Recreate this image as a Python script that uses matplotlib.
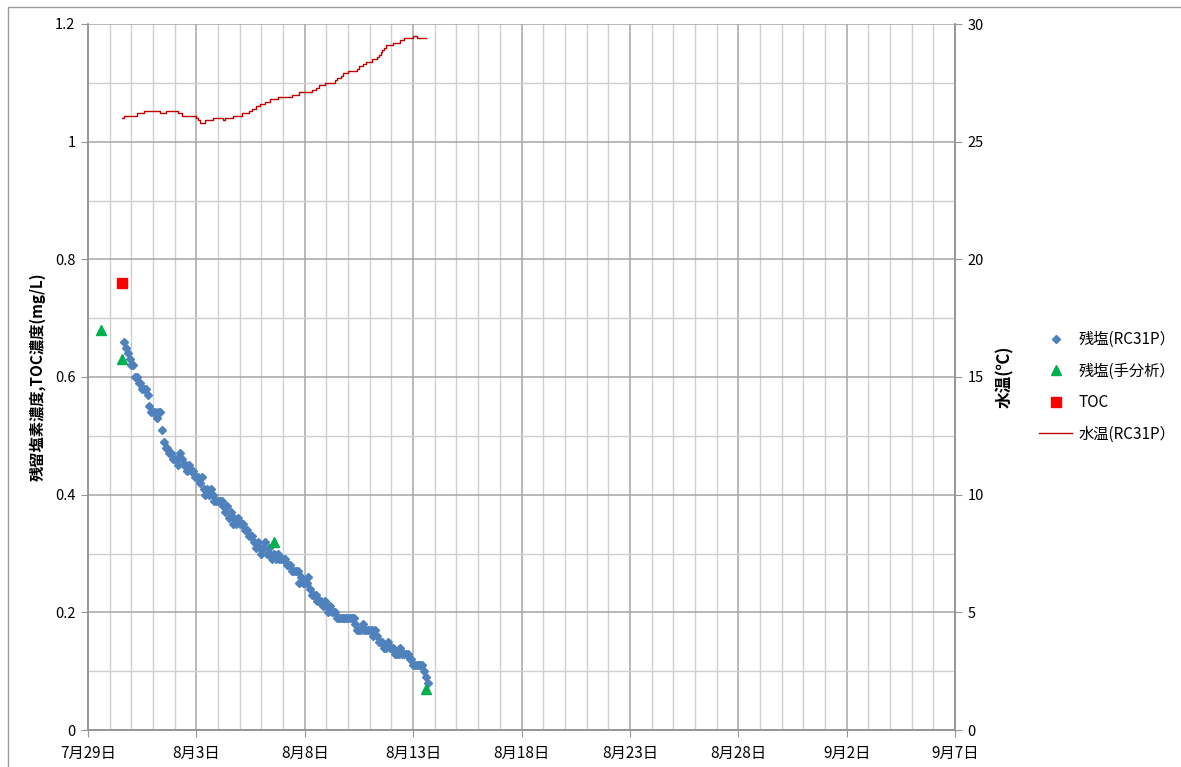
import matplotlib
matplotlib.use("Agg")
import matplotlib.pyplot as plt
import matplotlib.dates as mdates
import numpy as np
import pandas as pd
from matplotlib.patches import Rectangle
from matplotlib.ticker import MultipleLocator, FuncFormatter

plt.rcParams['font.family'] = ['Noto Sans CJK JP', 'DejaVu Sans']

# --- residual chlorine (RC31P), 2-hourly from 7/30 16:00 ---
rc_start = "2013-07-30 16:00"
rc31p = [
    0.66, 0.65, 0.64, 0.63,                                                  # 7/30
    0.62, 0.62, 0.60, 0.60, 0.59, 0.59, 0.58, 0.58, 0.58, 0.57, 0.55, 0.54,  # 7/31
    0.54, 0.54, 0.53, 0.54, 0.54, 0.51, 0.49, 0.48, 0.48, 0.47, 0.47, 0.46,  # 8/1
    0.46, 0.46, 0.45, 0.47, 0.46, 0.45, 0.45, 0.44, 0.45, 0.44, 0.44, 0.43,  # 8/2
    0.43, 0.43, 0.42, 0.43, 0.41, 0.40, 0.41, 0.40, 0.41, 0.40, 0.39, 0.39,  # 8/3
    0.39, 0.39, 0.39, 0.38, 0.37, 0.38, 0.36, 0.37, 0.35, 0.36, 0.35, 0.36,  # 8/4
    0.35, 0.35, 0.35, 0.34, 0.34, 0.33, 0.33, 0.33, 0.32, 0.31, 0.32, 0.31,  # 8/5
    0.30, 0.31, 0.32, 0.30, 0.31, 0.30, 0.29, 0.30, 0.29, 0.30, 0.29, 0.29,  # 8/6
    0.29, 0.29, 0.28, 0.28, 0.28, 0.27, 0.27, 0.27, 0.27, 0.25, 0.26, 0.25,  # 8/7
    0.25, 0.25, 0.26, 0.24, 0.23, 0.23, 0.23, 0.22, 0.22, 0.22, 0.21, 0.22,  # 8/8
    0.21, 0.20, 0.21, 0.20, 0.20, 0.20, 0.19, 0.19, 0.19, 0.19, 0.19, 0.19,  # 8/9
    0.19, 0.19, 0.19, 0.19, 0.18, 0.17, 0.17, 0.17, 0.18, 0.17, 0.17, 0.17,  # 8/10
    0.17, 0.17, 0.16, 0.17, 0.16, 0.15, 0.15, 0.15, 0.14, 0.14, 0.15, 0.14,  # 8/11
    0.14, 0.14, 0.13, 0.13, 0.13, 0.14, 0.13, 0.13, 0.13, 0.13, 0.12, 0.12,  # 8/12
    0.11, 0.11, 0.11, 0.11, 0.11, 0.11, 0.10, 0.09, 0.08,                    # 8/13
]

# --- water temperature (RC31P), 2-hourly from 7/30 14:00 ---
wt_start = "2013-07-30 14:00"
water_temp = [
    26.0, 26.1, 26.1, 26.1, 26.1,                                            # 7/30
    26.1, 26.1, 26.1, 26.2, 26.2, 26.2, 26.2, 26.3, 26.3, 26.3, 26.3, 26.3,  # 7/31
    26.3, 26.3, 26.3, 26.3, 26.2, 26.2, 26.2, 26.3, 26.3, 26.3, 26.3, 26.3,  # 8/1
    26.3, 26.3, 26.2, 26.2, 26.1, 26.1, 26.1, 26.1, 26.1, 26.1, 26.1, 26.1,  # 8/2
    26.0, 25.9, 25.8, 25.8, 25.8, 25.9, 25.9, 25.9, 25.9, 26.0, 26.0, 26.0,  # 8/3
    26.0, 26.0, 26.0, 25.9, 26.0, 26.0, 26.0, 26.0, 26.1, 26.1, 26.1, 26.1,  # 8/4
    26.1, 26.2, 26.2, 26.2, 26.2, 26.3, 26.3, 26.4, 26.4, 26.5, 26.5, 26.6,  # 8/5
    26.6, 26.6, 26.7, 26.7, 26.7, 26.8, 26.8, 26.8, 26.8, 26.9, 26.9, 26.9,  # 8/6
    26.9, 26.9, 26.9, 26.9, 26.9, 27.0, 27.0, 27.0, 27.0, 27.1, 27.1, 27.1,  # 8/7
    27.1, 27.1, 27.1, 27.1, 27.2, 27.2, 27.3, 27.3, 27.4, 27.4, 27.4, 27.5,  # 8/8
    27.5, 27.5, 27.5, 27.5, 27.5, 27.6, 27.7, 27.7, 27.8, 27.9, 27.9, 27.9,  # 8/9
    28.0, 28.0, 28.0, 28.0, 28.0, 28.1, 28.2, 28.2, 28.3, 28.3, 28.4, 28.4,  # 8/10
    28.4, 28.5, 28.5, 28.5, 28.6, 28.7, 28.8, 28.9, 29.0, 29.1, 29.1, 29.1,  # 8/11
    29.1, 29.2, 29.2, 29.2, 29.2, 29.3, 29.3, 29.4, 29.4, 29.4, 29.4, 29.4,  # 8/12
    29.5, 29.5, 29.4, 29.4, 29.4, 29.4, 29.4, 29.4,                          # 8/13
]

# --- manual analysis and TOC ---
manual_times = ["2013-07-29 14:00", "2013-07-30 13:40", "2013-08-06 14:20", "2013-08-13 14:20"]
manual_vals = [0.68, 0.63, 0.32, 0.07]
toc_times = ["2013-07-30 14:00"]
toc_vals = [0.76]

x_start = "2013-07-29"
x_end = "2013-09-07"

rc_t = pd.date_range(rc_start, periods=len(rc31p), freq="2h")
wt_t = pd.date_range(wt_start, periods=len(water_temp), freq="2h")
man_t = pd.to_datetime(manual_times)
toc_t = pd.to_datetime(toc_times)

fig = plt.figure(figsize=(11.81, 7.67), dpi=100)
ax = fig.add_axes([88 / 1181, 1 - 730 / 767, (955 - 88) / 1181, (730 - 24) / 767])
ax2 = ax.twinx()

l1, = ax.plot(rc_t, rc31p, linestyle="none", marker="D", ms=4.0, color="#4F81BD",
              label="残塩(RC31P）", zorder=3)
l2, = ax.plot(man_t, manual_vals, linestyle="none", marker="^", ms=7.5, color="#00B050",
              label="残塩(手分析）", zorder=4)
l3, = ax.plot(toc_t, toc_vals, linestyle="none", marker="s", ms=6.5, color="#FF0000",
              label="TOC", zorder=4)
l4, = ax2.plot(wt_t, water_temp, drawstyle="steps-post", color="#C00000", lw=1.0,
               label="水温(RC31P）")

ax.set_xlim(pd.Timestamp(x_start), pd.Timestamp(x_end))
ax.set_ylim(0, 1.2)
ax2.set_ylim(0, 30)

major_days = pd.date_range(x_start, x_end, freq="5D")
minor_days = pd.date_range(x_start, x_end, freq="1D")
ax.set_xticks(major_days)
ax.set_xticks(minor_days, minor=True)
ax.xaxis.set_major_formatter(FuncFormatter(
    lambda v, p: f"{mdates.num2date(v).month}月{mdates.num2date(v).day}日"))

ax.yaxis.set_major_locator(MultipleLocator(0.2))
ax.yaxis.set_minor_locator(MultipleLocator(0.1))
ax.yaxis.set_major_formatter(FuncFormatter(lambda v, p: f"{v:g}"))
ax2.yaxis.set_major_locator(MultipleLocator(5))

ax.set_axisbelow(True)
ax.grid(which="major", color="#A6A6A6", lw=1.1)
ax.grid(which="minor", color="#CFCFCF", lw=1.0)

for a in (ax, ax2):
    a.spines["top"].set_visible(False)
    for s in ("left", "right", "bottom"):
        a.spines[s].set_color("#959595")
        a.spines[s].set_linewidth(1.1)
    a.tick_params(which="major", length=5, color="#959595", labelsize=10.5, pad=4)
    a.tick_params(which="minor", length=0)
ax.tick_params(axis="x", pad=6, labelsize=11)

ax.set_ylabel("残留塩素濃度,TOC濃度(mg/L)", fontsize=11, fontweight="bold")
ax.yaxis.set_label_coords(-0.049, 0.5)
ax2.set_ylabel("水温(℃)", fontsize=12, fontweight="bold", rotation=90)
ax2.yaxis.set_label_coords(1.047, 0.5)

fig.legend(handles=[l1, l2, l3, l4], loc="center left", bbox_to_anchor=(1025 / 1181, 1 - 387 / 767),
           frameon=False, fontsize=11, numpoints=1, handlelength=2.2, labelspacing=0.95,
           handletextpad=0.4)

fig.patches.append(Rectangle((7.5 / 1181, -0.05), 1.1, 1.0415, transform=fig.transFigure,
                             fill=False, edgecolor="#9A9A9A", lw=1.0))

fig.savefig("out.png", dpi=100)
